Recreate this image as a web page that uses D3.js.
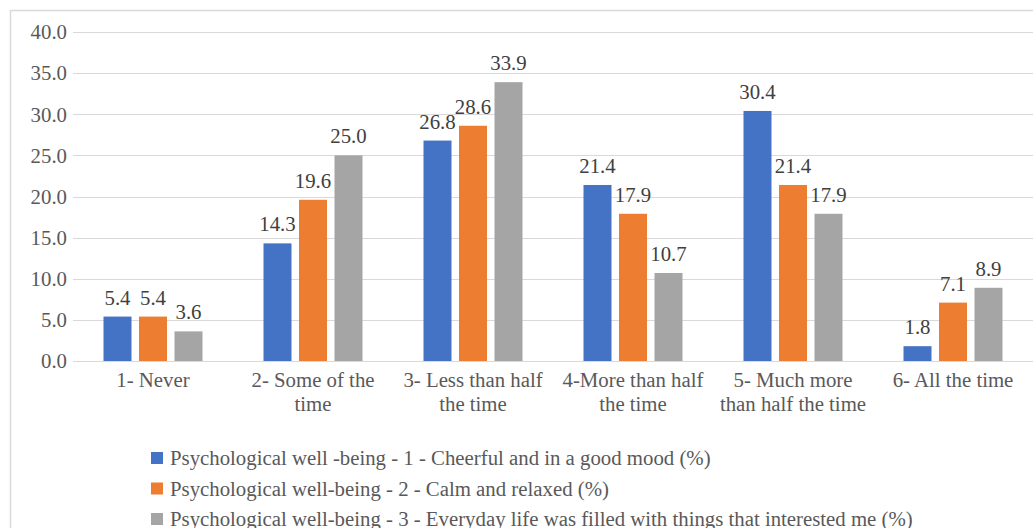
<!DOCTYPE html>
<html>
<head>
<meta charset="utf-8">
<script src="https://cdn.jsdelivr.net/npm/d3@7/dist/d3.min.js"></script>
<style>
  html, body { margin: 0; padding: 0; background: #fff; }
  text { font-family: "Liberation Serif"; }
</style>
</head>
<body>
<svg id="chart" width="1033" height="528"></svg>
<script>
// Response categories (wrapped into display lines)
const categories = [
  ["1- Never"],
  ["2- Some of the", "time"],
  ["3- Less than half", "the time"],
  ["4-More than half", "the time"],
  ["5- Much more", "than half the time"],
  ["6- All the time"]
];

// Series names and values (%)
const seriesNames = [
  "Psychological well -being - 1 - Cheerful and in a good mood (%)",
  "Psychological well-being - 2 - Calm and relaxed (%)",
  "Psychological well-being - 3 - Everyday life was filled with things that interested me (%)"
];
const cheerful = [5.4, 14.3, 26.8, 21.4, 30.4, 1.8];
const calm = [5.4, 19.6, 28.6, 17.9, 21.4, 7.1];
const interested = [3.6, 25.0, 33.9, 10.7, 17.9, 8.9];
const seriesColors = ["#4472C4", "#ED7D31", "#A5A5A5"];

const yTicks = [0, 5, 10, 15, 20, 25, 30, 35, 40];

const allSeries = [cheerful, calm, interested];
const svg = d3.select("#chart");
const FONT = "Liberation Serif";
const FS = "20.8px";

// Outer frame
svg.append("rect")
  .attr("x", 10.5).attr("y", 10.5)
  .attr("width", 1040).attr("height", 540)
  .attr("fill", "none").attr("stroke", "#d9d9d9").attr("stroke-width", 1.5);

const plot = { left: 73, right: 1033, top: 32, bottom: 361 };

const x = d3.scaleBand()
  .domain(d3.range(categories.length))
  .range([plot.left, plot.right])
  .padding(0);

const y = d3.scaleLinear().domain([0, 40]).range([plot.bottom, plot.top]);

// Horizontal gridlines
svg.append("g")
  .selectAll("line")
  .data(yTicks)
  .join("line")
  .attr("x1", plot.left).attr("x2", plot.right)
  .attr("y1", d => Math.round(y(d)) + 0.5).attr("y2", d => Math.round(y(d)) + 0.5)
  .attr("stroke", "#d9d9d9").attr("stroke-width", 1);

// Y axis tick labels
svg.append("g")
  .selectAll("text")
  .data(yTicks)
  .join("text")
  .attr("x", 67)
  .attr("y", d => y(d))
  .attr("dy", "0.35em")
  .attr("text-anchor", "end")
  .style("font-family", FONT)
  .style("font-size", FS)
  .attr("fill", "#595959")
  .text(d => d.toFixed(1));

// Bars within each category
const barW = 28, barStep = 35.5;
const xs = d3.scaleLinear().domain([0, 1, 2]).range([-barStep, 0, barStep]);

allSeries.forEach((vals, s) => {
  const g = svg.append("g");
  g.selectAll("rect")
    .data(vals)
    .join("rect")
    .attr("x", (d, i) => x(i) + x.bandwidth() / 2 + xs(s) - barW / 2)
    .attr("y", d => y(d))
    .attr("width", barW)
    .attr("height", d => y(0) - y(d))
    .attr("fill", seriesColors[s]);
  g.selectAll("text")
    .data(vals)
    .join("text")
    .attr("x", (d, i) => x(i) + x.bandwidth() / 2 + xs(s))
    .attr("y", d => y(d) - 12)
    .attr("text-anchor", "middle")
    .style("font-family", FONT)
    .style("font-size", FS)
    .attr("fill", "#404040")
    .text(d => d.toFixed(1));
});

// Category labels
const catG = svg.append("g");
categories.forEach((lines, i) => {
  const t = catG.append("text")
    .attr("x", x(i) + x.bandwidth() / 2)
    .attr("y", 387)
    .attr("text-anchor", "middle")
    .style("font-family", FONT)
    .style("font-size", FS)
    .attr("fill", "#595959");
  lines.forEach((ln, k) => {
    t.append("tspan")
      .attr("x", x(i) + x.bandwidth() / 2)
      .attr("dy", k === 0 ? 0 : 24)
      .text(ln);
  });
});

// Legend
const legend = svg.append("g");
seriesNames.forEach((name, s) => {
  const ly = 458 + s * 30.5;
  legend.append("rect")
    .attr("x", 151).attr("y", ly - 6)
    .attr("width", 12).attr("height", 12)
    .attr("fill", seriesColors[s]);
  legend.append("text")
    .attr("x", 170).attr("y", ly)
    .attr("dy", "0.35em")
    .style("font-family", FONT)
    .style("font-size", FS)
    .attr("fill", "#595959")
    .text(name);
});
</script>
</body>
</html>
